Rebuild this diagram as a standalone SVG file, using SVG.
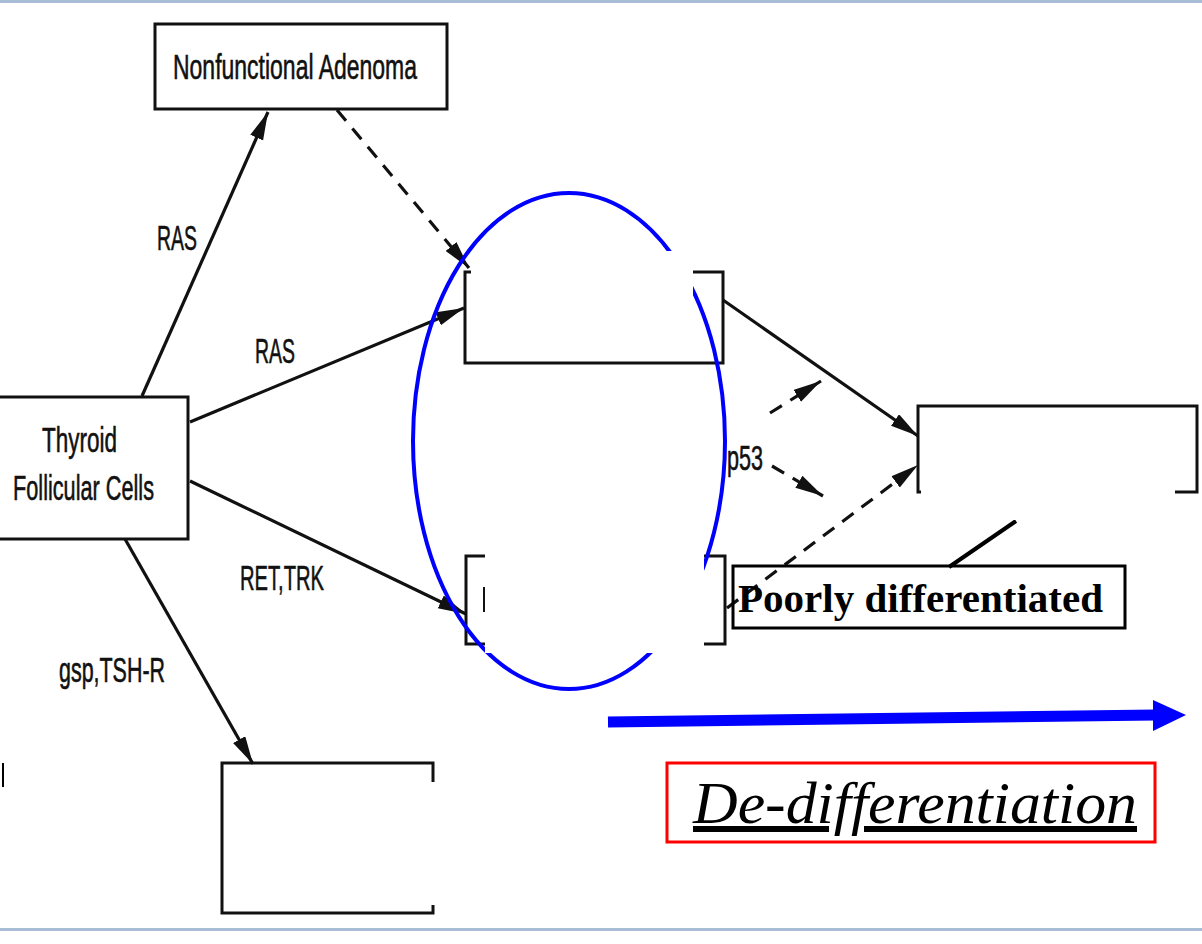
<svg xmlns="http://www.w3.org/2000/svg" width="1202" height="944" viewBox="0 0 1202 944">
<defs>
<style>
.box{fill:#fff;stroke:#111;stroke-width:3}
.patch{fill:#fff;stroke:none}
.lbl{font-family:"Liberation Sans",Arial,sans-serif;font-size:35px;fill:#111;stroke:#111;stroke-width:0.6}
.ln{stroke:#111;stroke-width:3.2;fill:none}
.dash{stroke:#111;stroke-width:3.2;fill:none;stroke-dasharray:14 10}
</style>
<marker id="ah" markerUnits="userSpaceOnUse" markerWidth="30" markerHeight="16" refX="28" refY="7" orient="auto">
<path d="M0,0 L28,7 L0,14 z" fill="#111"/>
</marker>
</defs>
<rect x="0" y="0" width="1202" height="944" fill="#fff"/>
<rect x="0" y="0" width="1202" height="3" fill="#a9bdd6"/>
<rect x="0" y="928" width="1202" height="3" fill="#a9bdd6"/>

<g id="connectors">
<line class="ln" x1="142" y1="396" x2="268" y2="112" marker-end="url(#ah)"/>
<line class="ln" x1="190" y1="422" x2="464" y2="308" marker-end="url(#ah)"/>
<line class="ln" x1="190" y1="481" x2="466" y2="614" marker-end="url(#ah)"/>
<line class="ln" x1="125" y1="539" x2="253" y2="764" marker-end="url(#ah)"/>
<line class="dash" x1="337" y1="110" x2="469" y2="268" marker-end="url(#ah)"/>
<line class="ln" x1="723" y1="300" x2="918" y2="436" marker-end="url(#ah)"/>
<line class="dash" x1="727" y1="608" x2="918" y2="465" marker-end="url(#ah)"/>
<line class="dash" x1="770" y1="413" x2="821" y2="381" marker-end="url(#ah)"/>
<line class="dash" x1="772" y1="466" x2="823" y2="496" marker-end="url(#ah)"/>
<line x1="949" y1="567" x2="1016" y2="521" stroke="#000" stroke-width="4"/>
</g>

<g id="nonfunctional">
<rect class="box" x="155" y="24" width="292" height="85"/>
<text class="lbl" x="173" y="79" textLength="244" lengthAdjust="spacingAndGlyphs">Nonfunctional Adenoma</text>
</g>
<g id="thyroid">
<rect class="box" x="-5" y="397" width="193" height="142"/>
<text class="lbl" x="42" y="452" textLength="75" lengthAdjust="spacingAndGlyphs">Thyroid</text>
<text class="lbl" x="13" y="500" textLength="141" lengthAdjust="spacingAndGlyphs">Follicular Cells</text>
</g>
<g id="labels">
<text class="lbl" x="157" y="250" textLength="40" lengthAdjust="spacingAndGlyphs">RAS</text>
<text class="lbl" x="255" y="363" textLength="40" lengthAdjust="spacingAndGlyphs">RAS</text>
<text class="lbl" x="240" y="590" textLength="84" lengthAdjust="spacingAndGlyphs">RET,TRK</text>
<text class="lbl" x="59" y="682" textLength="106" lengthAdjust="spacingAndGlyphs">gsp,TSH-R</text>
<text class="lbl" x="727" y="470" textLength="36" lengthAdjust="spacingAndGlyphs">p53</text>
</g>
<g id="box-upper">
<rect x="465" y="272" width="258" height="91" fill="none" stroke="#111" stroke-width="3"/>
</g>
<g id="box-lower">
<rect x="466" y="556" width="259" height="88" fill="none" stroke="#111" stroke-width="3"/>
</g>
<g id="box-right">
<rect x="918" y="406" width="279" height="86" fill="none" stroke="#111" stroke-width="3"/>
</g>
<g id="box-bottom">
<rect x="222" y="763" width="211" height="150" fill="none" stroke="#111" stroke-width="3"/>
</g>

<ellipse id="highlight" cx="569" cy="441" rx="156" ry="248" fill="none" stroke="#0000ff" stroke-width="4"/>

<g id="patches">
<rect class="patch" x="471" y="251" width="222" height="97"/>
<rect class="patch" x="485" y="552" width="219" height="101"/>
<rect class="patch" x="921" y="425" width="254" height="95"/>
<rect class="patch" x="234" y="782" width="236" height="123"/>
</g>
<line x1="484" y1="587" x2="484" y2="612" stroke="#111" stroke-width="2"/>
<line x1="3" y1="763" x2="3" y2="787" stroke="#000" stroke-width="2"/>

<g id="poorly">
<rect x="733" y="566" width="392" height="62" fill="none" stroke="#000" stroke-width="3"/>
<text x="738" y="612" font-family="'Liberation Serif','Times New Roman',serif" font-weight="bold" font-size="41" textLength="365" lengthAdjust="spacingAndGlyphs" fill="#000">Poorly differentiated</text>
</g>

<g id="dedifferentiation-arrow">
<line x1="608" y1="722" x2="1156" y2="715" stroke="#0000ff" stroke-width="11"/>
<polygon points="1153,700 1186,715 1153,731" fill="#0000ff"/>
</g>

<g id="dedifferentiation">
<rect x="667" y="763" width="488" height="79" fill="none" stroke="#ff0000" stroke-width="3"/>
<text x="693" y="823" font-family="'Liberation Serif','Times New Roman',serif" font-style="italic" font-size="60" text-decoration="underline" textLength="444" lengthAdjust="spacingAndGlyphs" fill="#000">De-differentiation</text>
</g>
</svg>
